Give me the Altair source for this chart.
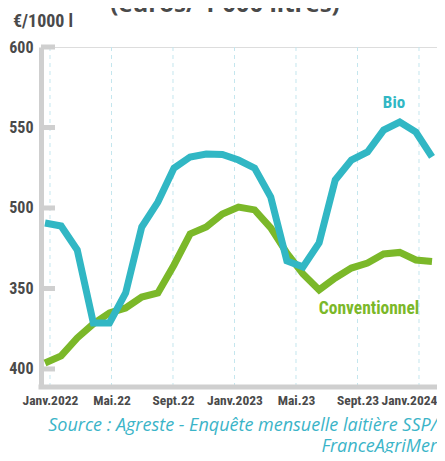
import altair as alt
import pandas as pd

# ---- data ----
months = ["2022-01", "2022-02", "2022-03", "2022-04", "2022-05", "2022-06",
          "2022-07", "2022-08", "2022-09", "2022-10", "2022-11", "2022-12",
          "2023-01", "2023-02", "2023-03", "2023-04", "2023-05", "2023-06",
          "2023-07", "2023-08", "2023-09", "2023-10", "2023-11", "2023-12",
          "2024-01"]
bio = [490.7, 488.8, 473.9, 428.6, 428.6, 447.2, 488.2, 503.7, 524.8, 531.7,
       533.5, 533.2, 529.8, 524.8, 506.8, 467.1, 463.4, 478.3, 517.4, 529.8,
       534.8, 548.4, 553.4, 547.2, 531.7]
conventionnel = [403.7, 408.1, 419.3, 428.0, 434.8, 437.9, 444.7, 447.2, 464.6,
                 483.9, 488.2, 496.3, 500.6, 498.8, 487.6, 472.0, 459.0, 449.1,
                 456.5, 462.7, 465.8, 471.4, 472.4, 467.7, 466.8]
x_tick_months = ["2022-01", "2022-05", "2022-09", "2023-01", "2023-05", "2023-09", "2024-01"]
x_tick_labels = ["Janv.2022", "Mai.22", "Sept.22", "Janv.2023", "Mai.23", "Sept.23", "Janv.2024"]
y_tick_values = [400, 450, 500, 550, 600]
y_tick_labels = ["400", "350", "500", "550", "600"]
series_names = ["Bio", "Conventionnel"]
unit_label = "€/1000 l"
title_text = "(euros/ 1 000 litres)"
source_lines = ["Source : Agreste - Enquête mensuelle laitière SSP/", "FranceAgriMer"]

# ---- tables ----
idx = list(range(len(months)))
df_bio = pd.DataFrame({"idx": idx, "value": bio, "series": series_names[0]})
df_conv = pd.DataFrame({"idx": idx, "value": conventionnel, "series": series_names[1]})
tick_idx = [months.index(m) for m in x_tick_months]
df_xticks = pd.DataFrame({"idx": tick_idx, "label": x_tick_labels})
df_yticks = pd.DataFrame({"value": y_tick_values})

BLUE = "#31b7c4"
GREEN = "#7bb829"
GRAY = "#cfcfcf"
TXT = "#4a4a4a"
NARROW = "Noto Sans Condensed, Roboto Condensed, Liberation Sans Narrow, DejaVu Sans Condensed, sans-serif"

x_label_expr = "{" + ",".join(f"'{i}':'{l}'" for i, l in zip(tick_idx, x_tick_labels)) + "}[''+datum.value]"
y_label_expr = "{" + ",".join(f"'{v}':'{l}'" for v, l in zip(y_tick_values, y_tick_labels)) + "}[''+datum.value]"
last_tick_test = f"datum.value == {tick_idx[-1]}"

W, H = 396, 340
yscale = alt.Scale(domain=[388.8, 600], nice=False, zero=False)
yaxis = alt.Axis(values=y_tick_values, labelExpr=y_label_expr, title=None, grid=False,
                 ticks=False, tickSize=0, domain=True, domainColor=GRAY, domainWidth=5,
                 labelFont=NARROW, labelFontSize=16, labelFontWeight="bold",
                 labelColor=TXT, labelPadding=8, labelOverlap=False)
xscale_data = alt.Scale(domain=[-0.248, 24.31], nice=False, zero=False)
xscale_axis = alt.Scale(domain=[-0.585, 25.171], nice=False, zero=False)

grid = alt.Chart(df_xticks).mark_rule(color="#c4e6ee", strokeDash=[4, 4], strokeWidth=1).encode(
    x=alt.X("idx:Q", scale=xscale_axis,
            axis=alt.Axis(values=tick_idx, labelExpr=x_label_expr, title=None, grid=False,
                          ticks=False, tickSize=0, domain=False,
                          labelFont=NARROW, labelFontSize=13.5, labelFontWeight="bold",
                          labelColor=TXT, labelPadding=6, labelAngle=0,
                          labelOffset={"condition": {"test": last_tick_test, "value": -10}, "value": 0},
                          labelOverlap=False, labelBound=False, labelFlush=False))
)

# bottom axis line, running to the right edge of the picture
baseline_rule = alt.Chart(pd.DataFrame({"a": [0]})).mark_rule(color=GRAY, strokeWidth=5).encode(
    x=alt.value(-2.5), x2=alt.value(W + 8), y=alt.value(H)
)

yticks = alt.Chart(df_yticks).mark_rule(color=GRAY, strokeWidth=5).encode(
    y=alt.Y("value:Q", scale=yscale, axis=yaxis),
    x=alt.value(0), x2=alt.value(14)
)

def line(df, color):
    return alt.Chart(df).mark_line(color=color, strokeWidth=7).encode(
        x=alt.X("idx:Q", scale=xscale_data, axis=None),
        y=alt.Y("value:Q", scale=yscale, axis=yaxis),
    )

one = pd.DataFrame({"a": [0]})

def label(text, x, y, color, size, font=NARROW, weight="bold", align="center",
          baseline="middle", style="normal", line_height=None):
    kw = dict(color=color, fontSize=size, font=font, fontWeight=weight, align=align,
              baseline=baseline, fontStyle=style)
    if line_height is not None:
        kw["lineHeight"] = line_height
    return alt.Chart(one).mark_text(**kw).encode(
        x=alt.value(x), y=alt.value(y), text=alt.value(text))

chart = alt.layer(
    grid,
    baseline_rule,
    yticks,
    line(df_conv, GREEN),
    line(df_bio, BLUE),
    label(series_names[0], 353, 56, BLUE, 17),
    label(series_names[1], 328, 262, GREEN, 17.5),
    label(unit_label, -28, -25, TXT, 18, align="left"),
    label(title_text, 184, -35, TXT, 24, font="Open Sans", align="center", baseline="alphabetic"),
    label(source_lines, 396, 384, "#3bb4c8", 18, font="Open Sans", weight="normal",
          align="right", baseline="alphabetic", style="italic", line_height=21),
).resolve_scale(x="independent").properties(
    width=W, height=H,
    padding={"left": 33, "top": 39, "right": 0, "bottom": 66},
    autosize=alt.AutoSizeParams(type="none"),
).configure_view(stroke=None).configure(background="white")

chart.save("out.html", embed_options={"renderer": "svg", "actions": False})
